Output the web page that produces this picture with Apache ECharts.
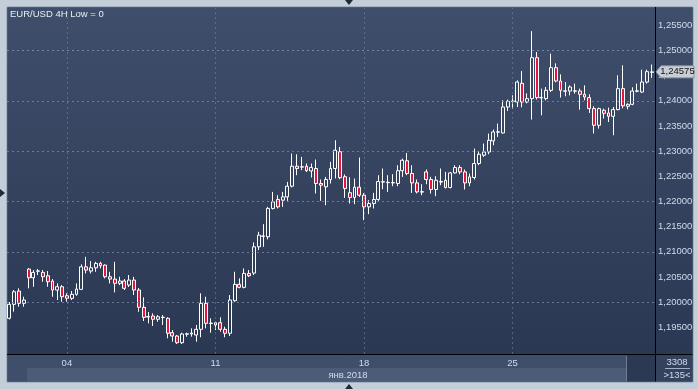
<!DOCTYPE html>
<html><head><meta charset="utf-8">
<script src="https://cdn.jsdelivr.net/npm/echarts@6/dist/echarts.min.js"></script>
<style>html,body{margin:0;padding:0;background:#c3ced9}#c{width:698px;height:389px}</style>
</head><body><div id="c"></div>
<script>
const titleText = 'EUR/USD 4H Low = 0';
const tickIdx = [12, 43, 74, 105];
const tickLabels = ['04', '11', '18', '25'];
const monthLabel = 'янв.2018';
const yTicks = [1.195,1.200,1.205,1.210,1.215,1.220,1.225,1.230,1.235,1.240,1.245,1.250,1.255];
const lastPrice = 1.24575;
const barsInfo = ['3308', '>135<'];

const opens = [1.19679,1.19956,1.20220,1.19976,1.20657,1.20484,1.20613,1.20591,1.20524,1.20419,
1.20240,1.20306,1.20127,1.20075,1.20155,1.20254,1.20702,1.20617,1.20682,1.20770,
1.20736,1.20504,1.20458,1.20373,1.20419,1.20339,1.20438,1.20240,1.19897,1.19714,
1.19724,1.19659,1.19694,1.19679,1.19393,1.19327,1.19194,1.19363,1.19367,1.19347,
1.19460,1.19976,1.19575,1.19546,1.19591,1.19460,1.19381,1.20028,1.20353,1.20294,
1.20571,1.20577,1.21099,1.21307,1.21298,1.21861,1.22040,1.22026,1.22091,1.22303,
1.22700,1.22690,1.22700,1.22607,1.22655,1.22357,1.22290,1.22436,1.22655,1.22988,
1.22492,1.22174,1.22079,1.22284,1.22125,1.21893,1.21960,1.22040,1.22393,1.22373,
1.22377,1.22357,1.22611,1.22809,1.22555,1.22369,1.22194,1.22587,1.22436,1.22238,
1.22397,1.22422,1.22278,1.22567,1.22674,1.22587,1.22369,1.22476,1.22754,1.22918,
1.22984,1.23202,1.23377,1.23361,1.23877,1.23986,1.23976,1.24347,1.23976,1.24043,
1.24857,1.24059,1.24043,1.24208,1.24658,1.24393,1.24198,1.24194,1.24198,1.24194,
1.24129,1.24063,1.23845,1.23514,1.23811,1.23758,1.23692,1.23825,1.24242,1.23891,
1.23930,1.24190,1.24174,1.24373,1.24565];
const closes = [1.19956,1.20206,1.19976,1.20042,1.20484,1.20591,1.20621,1.20504,1.20405,1.20240,
1.20306,1.20107,1.20075,1.20155,1.20260,1.20702,1.20637,1.20682,1.20770,1.20722,
1.20504,1.20458,1.20373,1.20419,1.20274,1.20438,1.20240,1.19897,1.19698,1.19704,
1.19659,1.19710,1.19700,1.19381,1.19327,1.19194,1.19367,1.19371,1.19387,1.19460,
1.19976,1.19579,1.19583,1.19591,1.19460,1.19381,1.20042,1.20353,1.20294,1.20571,
1.20524,1.21099,1.21331,1.21315,1.21861,1.21992,1.21893,1.22091,1.22303,1.22700,
1.22655,1.22682,1.22611,1.22674,1.22357,1.22323,1.22436,1.22655,1.23018,1.22472,
1.22258,1.22079,1.22284,1.22125,1.21893,1.21960,1.22040,1.22397,1.22385,1.22381,
1.22369,1.22611,1.22819,1.22555,1.22369,1.22190,1.22186,1.22436,1.22238,1.22422,
1.22385,1.22278,1.22567,1.22674,1.22587,1.22369,1.22488,1.22754,1.22938,1.22984,
1.23216,1.23381,1.23385,1.23877,1.23990,1.23994,1.24373,1.23976,1.24043,1.24857,
1.24063,1.24067,1.24208,1.24658,1.24393,1.24208,1.24190,1.24274,1.24190,1.24129,
1.24075,1.23845,1.23514,1.23845,1.23752,1.23692,1.23825,1.24242,1.23900,1.23930,
1.24194,1.24198,1.24373,1.24579,1.24575];
const lows = [1.19655,1.19810,1.19909,1.19909,1.20274,1.20306,1.20538,1.20405,1.20306,1.20107,
1.20042,1.20008,1.20008,1.20042,1.20127,1.20240,1.20571,1.20571,1.20603,1.20670,
1.20472,1.20373,1.20194,1.20339,1.20240,1.20300,1.20141,1.19810,1.19625,1.19579,
1.19526,1.19611,1.19546,1.19282,1.19214,1.19169,1.19169,1.19314,1.19314,1.19214,
1.19302,1.19480,1.19393,1.19446,1.19413,1.19302,1.19327,1.20008,1.20274,1.20274,
1.20498,1.20538,1.21034,1.21099,1.21246,1.21841,1.21861,1.21893,1.22012,1.22278,
1.22522,1.22621,1.22587,1.22476,1.22159,1.22012,1.21926,1.22357,1.22456,1.22442,
1.22071,1.21960,1.21946,1.22091,1.21629,1.21748,1.21861,1.22012,1.22244,1.22190,
1.22303,1.22303,1.22488,1.22522,1.22170,1.22159,1.22125,1.22343,1.22159,1.22105,
1.22323,1.22258,1.22258,1.22555,1.22541,1.22238,1.22303,1.22436,1.22720,1.22885,
1.22938,1.23117,1.23282,1.23349,1.23797,1.23845,1.23877,1.23871,1.23950,1.23627,
1.24024,1.23712,1.24010,1.24174,1.24367,1.24063,1.24089,1.24109,1.24143,1.23825,
1.24010,1.23758,1.23349,1.23448,1.23647,1.23579,1.23315,1.23811,1.23851,1.23831,
1.23911,1.24168,1.24154,1.24341,1.24456];
const highs = [1.20002,1.20240,1.20274,1.20107,1.20676,1.20637,1.20657,1.20637,1.20617,1.20458,
1.20373,1.20339,1.20175,1.20220,1.20373,1.20750,1.20900,1.20815,1.20801,1.20801,
1.20750,1.20603,1.20801,1.20504,1.20458,1.20538,1.20504,1.20280,1.20095,1.19804,
1.19778,1.19744,1.19744,1.19698,1.19446,1.19347,1.19393,1.19393,1.19480,1.19546,
1.20175,1.20107,1.19679,1.19611,1.19698,1.19512,1.20141,1.20603,1.20472,1.20670,
1.20637,1.21186,1.21397,1.21549,1.21893,1.22190,1.22125,1.22190,1.22389,1.22952,
1.22938,1.22885,1.22754,1.22754,1.22833,1.22436,1.22488,1.22786,1.23216,1.23083,
1.22536,1.22482,1.22456,1.22873,1.22165,1.22026,1.22170,1.22522,1.22655,1.22522,
1.22541,1.22720,1.22853,1.22964,1.22720,1.22436,1.22343,1.22635,1.22488,1.22502,
1.22655,1.22587,1.22587,1.22720,1.22720,1.22635,1.22555,1.23051,1.23004,1.23151,
1.23349,1.23428,1.23547,1.24010,1.24024,1.24109,1.24406,1.24591,1.24149,1.25385,
1.24968,1.24242,1.24274,1.24936,1.24744,1.24525,1.24373,1.24307,1.24341,1.24242,
1.24307,1.24129,1.23891,1.23865,1.23845,1.23865,1.23877,1.24506,1.24704,1.23950,
1.24268,1.24341,1.24619,1.24619,1.24720];

const categories = opens.map((_, i) => 'b' + i);
const candleData = opens.map((o, i) => [o, closes[i], lows[i], highs[i]]);
const fmt = v => v.toFixed(5).replace('.', ',');
const F = '"Liberation Sans", Arial, sans-serif';
const txtCol = '#cfdcec';
const FS = 9.5;

const chart = echarts.init(document.getElementById('c'), null, {renderer: 'canvas'});
const bgGrad = new echarts.graphic.LinearGradient(0, 0, 0, 1, [
  {offset: 0, color: '#3f4e6a'}, {offset: 1, color: '#2b3854'}]);

const hLines = yTicks.map(v => ({yAxis: v}));
const vLines = tickIdx.map(i => ({xAxis: categories[i]}));

chart.setOption({
  animation: false,
  backgroundColor: '#c3ced9',
  grid: {left: 7, right: 44, top: 8, bottom: 35, containLabel: false},
  xAxis: {
    type: 'category', data: categories, boundaryGap: true,
    axisLine: {show: false}, axisTick: {show: false}, splitLine: {show: false},
    axisLabel: {
      interval: (idx) => tickIdx.indexOf(idx) >= 0,
      formatter: (val, idx) => { const k = tickIdx.indexOf(categories.indexOf(val)); return k >= 0 ? tickLabels[k] : ''; },
      color: txtCol, fontSize: FS, fontFamily: F, margin: 4
    }
  },
  yAxis: {
    type: 'value', position: 'right', scale: true,
    min: 1.189695, max: 1.258437,
    axisLine: {show: false}, axisTick: {show: false}, splitLine: {show: false},
    axisLabel: {customValues: yTicks, formatter: v => fmt(v), color: txtCol, fontSize: FS, fontFamily: F, margin: 4, align: 'left'}
  },
  graphic: [
    {type: 'rect', z: -5, shape: {x: 7, y: 7, width: 686, height: 375}, style: {fill: '#2b3854', stroke: '#8796aa', lineWidth: 1}},
    {type: 'rect', z: -4, shape: {x: 7.5, y: 7.5, width: 648, height: 347}, style: {fill: bgGrad}},
    {type: 'rect', z: -4, shape: {x: 655, y: 7.5, width: 37.5, height: 347}, style: {fill: bgGrad}},
    {type: 'rect', z: -4, shape: {x: 7.5, y: 354, width: 648, height: 14}, style: {fill: '#3f4e6a'}},
    {type: 'rect', z: -4, shape: {x: 7.5, y: 368, width: 20, height: 13.5}, style: {fill: '#3f4e6a'}},
    {type: 'rect', z: -4, shape: {x: 27, y: 368, width: 600, height: 13.5}, style: {fill: '#4b5b78'}},
    {type: 'rect', z: -3, shape: {x: 627, y: 355, width: 28, height: 26.5}, style: {fill: '#2c3953'}},
    {type: 'line', z: -3, shape: {x1: 626.5, y1: 356, x2: 626.5, y2: 381}, style: {stroke: '#6e7c93', lineWidth: 1}},
    {type: 'rect', z: -4, shape: {x: 655, y: 354, width: 37.5, height: 27.5}, style: {fill: '#34425e'}},
    {type: 'line', z: 5, shape: {x1: 7, y1: 354.5, x2: 692.5, y2: 354.5}, style: {stroke: '#000000', lineWidth: 1}},
    {type: 'line', z: 5, shape: {x1: 655.5, y1: 7, x2: 655.5, y2: 381.5}, style: {stroke: '#000000', lineWidth: 1}},
    {type: 'text', z: 6, x: 10, y: 14, style: {text: titleText, fill: '#e8eef6', font: FS + 'px ' + F, textVerticalAlign: 'middle'}},
    {type: 'text', z: 6, x: 348, y: 375, style: {text: monthLabel, fill: txtCol, font: FS + 'px ' + F, textAlign: 'center', textVerticalAlign: 'middle'}},
    {type: 'text', z: 6, x: 677, y: 362, style: {text: barsInfo[0], fill: txtCol, font: FS + 'px ' + F, textAlign: 'center', textVerticalAlign: 'middle'}},
    {type: 'line', z: 6, shape: {x1: 665, y1: 368.5, x2: 690, y2: 368.5}, style: {stroke: '#9fb0c8', lineWidth: 1}},
    {type: 'text', z: 6, x: 677, y: 375, style: {text: barsInfo[1], fill: txtCol, font: FS + 'px ' + F, textAlign: 'center', textVerticalAlign: 'middle'}},
    {type: 'polygon', z: 6, shape: {points: [[345, 0], [353, 0], [349, 5]]}, style: {fill: '#1e2a3a'}},
    {type: 'polygon', z: 6, shape: {points: [[345, 389], [353, 389], [349, 384]]}, style: {fill: '#1e2a3a'}},
    {type: 'polygon', z: 6, shape: {points: [[0, 189], [0, 197], [5, 193]]}, style: {fill: '#1e2a3a'}}
  ],
  series: [{
    type: 'candlestick', data: candleData, barWidth: 3.4,
    itemStyle: {color: 'rgba(0,0,0,0)', color0: '#e3173d', borderColor: '#ffffff', borderColor0: '#ffffff', borderWidth: 1},
    markLine: {
      silent: true, symbol: 'none', label: {show: false}, animation: false,
      lineStyle: {color: 'rgba(125,142,172,0.5)', type: [2, 3], width: 1},
      emphasis: {disabled: true},
      data: hLines.concat(vLines)
    }
  }]
});

const py = chart.convertToPixel({yAxisIndex: 0}, lastPrice);
chart.setOption({graphic: [
  {id: 'plbox', type: 'polygon', z: 8, shape: {points: [[656, py], [661, py - 6], [694, py - 6], [694, py + 6], [661, py + 6]]}, style: {fill: '#c9ced6', stroke: '#8a93a0', lineWidth: 1}},
  {id: 'pltxt', type: 'text', z: 9, x: 677.5, y: py, style: {text: fmt(lastPrice), fill: '#111111', font: FS + 'px ' + F, textAlign: 'center', textVerticalAlign: 'middle'}}
]});
</script></body></html>
